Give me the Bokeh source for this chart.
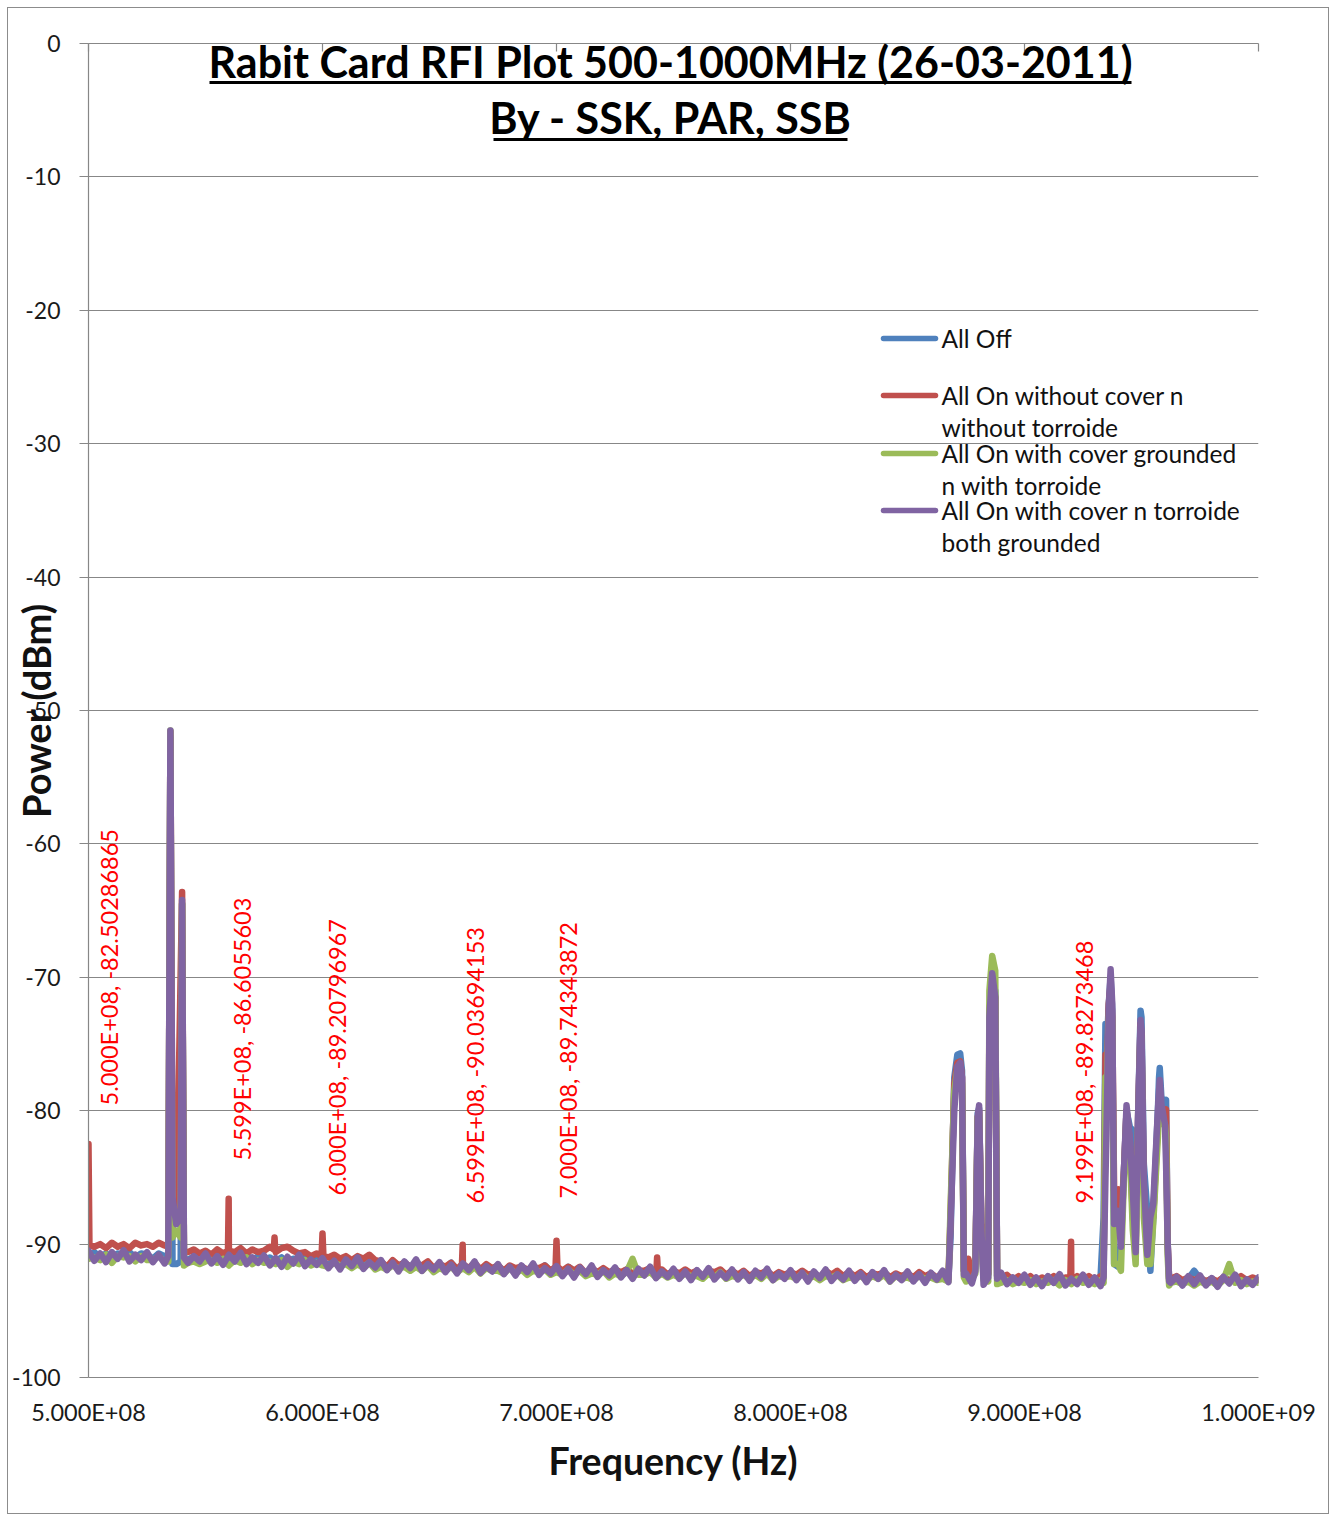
import math
from bokeh.plotting import figure
from bokeh.models import (Range1d, FixedTicker, LinearAxis, CustomJSTickFormatter,
                          Label, Grid)
from bokeh.embed import file_html
from bokeh.resources import INLINE

# ---------------- data ----------------
TITLE_1 = "Rabit Card RFI Plot 500-1000MHz (26-03-2011)"
TITLE_2 = "By - SSK, PAR, SSB"
X_LABEL = "Frequency (Hz)"
Y_LABEL = "Power (dBm)"

x_ticks = [5.0e8, 6.0e8, 7.0e8, 8.0e8, 9.0e8, 1.0e9]
y_ticks = [0, -10, -20, -30, -40, -50, -60, -70, -80, -90, -100]

series_names = ["All Off",
                "All On without cover n without torroide",
                "All On with cover grounded n with torroide",
                "All On with cover n torroide both grounded"]
legend_lines = [["All Off"],
                ["All On without cover n", "without torroide"],
                ["All On with cover grounded", "n with torroide"],
                ["All On with cover n torroide", "both grounded"]]
series_colors = ["#4F81BD", "#C0504D", "#9BBB59", "#8064A2"]

# sweep: 500 .. 1000 MHz in 2.5 MHz steps (201 points)
sweep_mhz = [500.0 + 2.5 * i for i in range(201)]

all_off_dbm = [
    -90.9, -90.6, -91.0, -90.7, -91.1, -90.7, -90.9, -90.6, -91.0, -90.7,
    -90.8, -91.1, -90.7, -90.9, -52.0, -91.5, -64.5, -91.2, -90.9, -91.3,
    -91.1, -90.9, -91.2, -90.9, -91.3, -91.0, -91.1, -90.8, -91.2, -90.9,
    -91.2, -91.0, -91.3, -91.0, -91.4, -91.1, -91.2, -90.9, -91.4, -91.1,
    -91.3, -91.6, -91.1, -91.4, -91.3, -91.6, -91.2, -91.5, -91.2, -91.6,
    -91.4, -91.8, -91.3, -91.6, -91.5, -91.8, -91.4, -91.7, -91.5, -91.8,
    -91.6, -91.8, -91.4, -91.9, -91.6, -91.9, -91.5, -91.9, -91.6, -91.8,
    -91.7, -92.0, -91.7, -91.9, -91.8, -92.0, -91.8, -92.0, -91.6, -92.0,
    -91.8, -92.2, -91.7, -92.0, -91.9, -92.2, -91.9, -92.1, -91.9, -92.2,
    -92.0, -92.2, -91.9, -92.3, -92.0, -92.2, -91.8, -92.3, -92.0, -92.3,
    -92.0, -92.4, -92.0, -92.2, -92.1, -92.4, -92.1, -92.2, -92.0, -92.3,
    -92.1, -92.4, -92.1, -92.4, -92.2, -92.3, -92.1, -92.4, -92.2, -92.4,
    -92.2, -92.4, -92.1, -92.4, -92.2, -92.5, -92.1, -92.4, -92.1, -92.4,
    -92.2, -92.5, -92.2, -92.5, -92.3, -92.4, -92.1, -92.5, -92.3, -92.4,
    -92.3, -92.5, -92.2, -92.5, -92.2, -92.6, -92.3, -92.6, -77.5, -75.7,
    -92.5, -92.3, -80.2, -92.4, -72.8, -71.0, -92.7, -92.4, -92.8, -92.5,
    -92.7, -92.5, -92.8, -92.6, -92.7, -92.5, -92.8, -92.6, -92.7, -92.5,
    -92.7, -92.5, -92.8, -92.5, -76.0, -72.5, -91.7, -84.5, -81.2, -90.0,
    -73.0, -87.6, -88.0, -77.5, -79.3, -92.7, -92.5, -92.8, -92.6, -92.0,
    -92.6, -92.8, -92.6, -92.9, -92.5, -92.7, -92.6, -92.5, -92.7, -92.6,
    -92.7]
all_off_extra = [
    (534.1, -90.8), (535.9, -91.5), (539.4, -91.3), (540.8, -91.0),
    (868.4, -89.5), (871.3, -75.8), (873.3, -77.0), (874.1, -92.0),
    (879.0, -91.8), (880.6, -79.8), (881.6, -89.0),
    (884.5, -92.3), (886.2, -70.2), (888.3, -92.4),
    (933.8, -88.0), (934.6, -73.5), (936.0, -72.0), (936.8, -70.0), (938.3, -91.5),
    (941.2, -90.0), (943.6, -80.0), (946.3, -81.5), (948.6, -80.0), (949.6, -72.5),
    (951.0, -84.0), (953.8, -92.0), (957.0, -80.0), (957.8, -76.8), (958.5, -79.0),
    (960.5, -79.2), (961.2, -90.0), (961.8, -92.6)]

no_cover_dbm = [
    -82.5, -90.2, -90.0, -90.3, -89.9, -90.2, -90.0, -90.3, -89.9, -90.1,
    -90.0, -90.2, -89.9, -90.1, -51.6, -88.0, -63.6, -90.6, -90.4, -90.7,
    -90.5, -90.8, -90.4, -90.7, -90.5, -90.6, -90.3, -90.7, -90.4, -90.6,
    -90.5, -90.2, -90.6, -90.3, -90.2, -90.5, -90.7, -90.6, -90.9, -90.7,
    -89.2, -91.0, -90.8, -91.1, -90.9, -91.2, -90.9, -91.1, -90.8, -91.2,
    -91.3, -91.7, -91.2, -91.6, -91.4, -91.7, -91.5, -91.6, -91.3, -91.8,
    -91.5, -91.7, -91.4, -91.9, -91.5, -91.8, -91.4, -91.9, -91.5, -91.8,
    -91.6, -92.0, -91.6, -91.8, -91.7, -91.9, -91.8, -91.8, -91.6, -92.0,
    -89.74, -92.0, -91.7, -92.0, -91.7, -92.2, -91.8, -92.1, -91.8, -92.1,
    -91.9, -92.1, -91.9, -92.2, -92.0, -92.0, -91.8, -92.2, -91.9, -92.3,
    -92.0, -92.2, -91.9, -92.2, -92.0, -92.4, -92.0, -92.1, -91.9, -92.3,
    -92.0, -92.3, -92.0, -92.4, -92.1, -92.2, -92.0, -92.4, -92.1, -92.3,
    -92.1, -92.3, -92.0, -92.3, -92.2, -92.5, -92.0, -92.3, -92.0, -92.4,
    -92.1, -92.4, -92.1, -92.5, -92.2, -92.3, -92.1, -92.5, -92.2, -92.4,
    -92.2, -92.5, -92.1, -92.4, -92.2, -92.5, -92.3, -92.6, -78.0, -76.3,
    -92.4, -92.2, -80.5, -92.3, -72.5, -71.5, -92.6, -92.3, -92.7, -92.4,
    -92.7, -92.4, -92.8, -92.5, -92.7, -92.4, -92.8, -92.5, -92.7, -92.4,
    -92.6, -92.4, -92.7, -92.4, -79.0, -73.0, -85.9, -84.5, -82.3, -90.4,
    -74.5, -90.6, -88.0, -79.2, -80.0, -92.6, -92.4, -92.7, -92.5, -92.7,
    -92.5, -92.8, -92.6, -92.8, -92.5, -92.7, -92.6, -92.4, -92.7, -92.5,
    -92.7]
no_cover_extra = [
    (500.4, -90.1), (534.1, -90.2), (535.9, -86.0), (538.4, -79.6), (540.8, -90.6),
    (559.6, -90.5), (559.9, -86.6), (579.2, -90.4), (579.5, -89.5), (579.8, -90.4),
    (599.6, -90.9), (600.4, -90.9), (659.6, -91.5), (659.9, -90.04),
    (699.6, -91.7), (700.4, -91.7), (742.7, -92.0), (743.0, -91.0), (743.3, -92.0),
    (919.6, -92.5), (919.9, -89.83),
    (868.4, -88.0), (871.3, -76.4), (873.3, -77.5), (874.1, -92.0), (876.0, -91.1),
    (879.0, -91.5), (880.6, -80.0), (881.6, -88.5), (883.3, -88.7),
    (884.5, -92.2), (886.2, -70.5), (888.3, -92.4),
    (933.8, -92.3), (934.6, -75.8), (936.0, -72.0), (936.8, -70.5), (938.3, -86.0),
    (941.2, -88.5), (943.6, -80.0), (946.3, -88.0), (948.6, -80.0), (949.6, -73.5),
    (951.0, -86.0), (953.8, -88.5), (957.0, -81.0), (958.5, -80.5), (960.5, -79.9),
    (961.2, -90.0), (961.8, -92.6)]

cover_grounded_dbm = [
    -91.1, -91.0, -91.2, -90.8, -91.4, -90.9, -91.0, -90.9, -91.3, -90.9,
    -91.2, -91.2, -90.9, -91.3, -51.5, -89.0, -64.5, -91.4, -91.3, -91.5,
    -91.3, -91.2, -91.4, -91.1, -91.6, -91.2, -91.4, -91.0, -91.5, -91.2,
    -91.4, -91.3, -91.5, -91.2, -91.7, -91.3, -91.5, -91.2, -91.6, -91.4,
    -91.6, -91.7, -91.4, -91.6, -91.5, -91.8, -91.5, -91.8, -91.4, -91.9,
    -91.7, -91.9, -91.6, -91.8, -91.7, -92.0, -91.7, -92.0, -91.6, -92.1,
    -91.8, -92.0, -91.7, -92.1, -91.8, -92.1, -91.7, -92.2, -91.8, -92.0,
    -92.0, -92.2, -91.8, -92.2, -91.9, -92.3, -92.0, -92.1, -91.9, -92.3,
    -92.1, -92.3, -91.9, -92.3, -92.0, -92.4, -92.2, -92.3, -92.0, -92.5,
    -92.2, -92.4, -92.1, -91.1, -92.3, -92.3, -92.1, -92.5, -92.2, -92.5,
    -92.3, -92.5, -92.2, -92.4, -92.4, -92.6, -92.2, -92.5, -92.1, -92.6,
    -92.4, -92.5, -92.3, -92.6, -92.3, -92.6, -92.2, -92.7, -92.4, -92.5,
    -92.4, -92.6, -92.2, -92.6, -92.4, -92.7, -92.4, -92.5, -92.3, -92.7,
    -92.5, -92.6, -92.4, -92.7, -92.4, -92.6, -92.3, -92.8, -92.4, -92.6,
    -92.5, -92.7, -92.4, -92.6, -92.5, -92.7, -92.6, -92.8, -78.5, -76.9,
    -92.8, -92.6, -80.5, -92.7, -71.0, -69.5, -92.9, -92.7, -93.0, -92.8,
    -92.9, -92.7, -93.0, -92.8, -92.9, -92.7, -93.1, -92.7, -93.0, -92.6,
    -92.9, -92.8, -93.0, -92.7, -80.0, -73.5, -91.5, -85.0, -83.0, -91.5,
    -75.0, -91.5, -88.5, -79.5, -81.0, -92.9, -92.8, -93.0, -92.8, -93.1,
    -92.8, -93.0, -92.8, -93.1, -92.7, -91.5, -92.9, -92.7, -93.0, -92.8,
    -92.9]
cover_grounded_extra = [
    (534.1, -91.3), (535.9, -89.5), (539.4, -89.5), (540.8, -91.6),
    (868.4, -87.2), (871.3, -76.9), (873.3, -78.0), (874.1, -92.5),
    (879.0, -92.2), (880.6, -80.3), (881.6, -89.5),
    (884.5, -92.8), (886.2, -68.4), (888.3, -93.0),
    (933.8, -92.9), (934.6, -77.5), (936.0, -73.0), (936.8, -71.0), (938.3, -91.5),
    (941.2, -92.0), (943.6, -80.5), (946.3, -89.0), (948.6, -81.0), (949.6, -74.0),
    (951.0, -88.0), (953.8, -91.5), (957.0, -82.0), (957.8, -79.5), (958.5, -81.0),
    (960.5, -82.0), (961.2, -91.0), (961.8, -93.1)]

both_grounded_dbm = [
    -90.5, -91.25, -90.7, -91.35, -90.6, -91.1, -90.45, -91.3, -90.8, -91.2,
    -90.6, -91.35, -90.8, -91.45, -51.5, -88.5, -64.2, -91.4, -90.9, -91.3,
    -90.7, -91.45, -90.9, -91.55, -90.8, -91.3, -90.65, -91.5, -91.0, -91.4,
    -90.85, -91.6, -91.05, -91.7, -90.95, -91.45, -90.8, -91.65, -91.15, -91.55,
    -91.05, -91.8, -91.25, -91.9, -91.15, -91.65, -91.0, -91.85, -91.35, -91.75,
    -91.2, -91.95, -91.4, -92.05, -91.3, -91.8, -91.15, -92.0, -91.5, -91.9,
    -91.35, -92.1, -91.55, -92.2, -91.45, -91.95, -91.3, -92.15, -91.65, -92.05,
    -91.5, -92.25, -91.7, -92.35, -91.6, -92.1, -91.45, -92.3, -91.8, -92.2,
    -91.65, -92.4, -91.85, -92.5, -91.75, -92.25, -91.6, -92.45, -91.95, -92.35,
    -91.75, -92.5, -91.95, -92.6, -91.85, -92.35, -91.7, -92.55, -92.05, -92.45,
    -91.85, -92.6, -92.05, -92.7, -91.95, -92.45, -91.8, -92.65, -92.15, -92.55,
    -91.9, -92.65, -92.1, -92.75, -92.0, -92.5, -91.85, -92.7, -92.2, -92.6,
    -91.95, -92.7, -92.15, -92.8, -92.05, -92.55, -91.9, -92.75, -92.25, -92.65,
    -92.0, -92.75, -92.2, -92.85, -92.1, -92.6, -91.95, -92.8, -92.3, -92.7,
    -92.05, -92.8, -92.25, -92.9, -92.15, -92.65, -92.0, -92.85, -80.0, -76.4,
    -92.2, -92.95, -80.5, -93.05, -73.0, -71.5, -92.15, -93.0, -92.5, -92.9,
    -92.3, -93.05, -92.5, -93.15, -92.4, -92.9, -92.25, -93.1, -92.6, -93.0,
    -92.3, -93.05, -92.5, -93.15, -82.0, -72.0, -87.5, -84.5, -82.0, -90.6,
    -74.0, -90.8, -87.0, -78.5, -81.0, -92.9, -92.45, -93.1, -92.4, -93.0,
    -92.35, -93.1, -92.55, -93.2, -92.45, -92.95, -92.3, -93.15, -92.65, -93.05,
    -92.5]
both_grounded_extra = [
    (534.1, -90.9), (535.9, -86.5), (539.4, -88.0), (540.8, -91.0),
    (868.4, -88.5), (871.3, -76.7), (873.3, -77.5), (874.1, -92.3),
    (879.0, -92.0), (880.6, -79.6), (881.6, -89.0),
    (884.5, -92.5), (886.2, -69.7), (888.3, -92.6),
    (933.8, -92.5), (934.6, -85.0), (936.0, -72.5), (936.8, -69.4), (938.3, -88.5),
    (941.2, -90.2), (943.6, -79.6), (946.3, -86.0), (948.6, -80.0), (949.6, -73.2),
    (951.0, -85.0), (953.8, -88.0), (957.0, -80.0), (957.8, -77.7), (958.5, -79.5),
    (960.5, -84.0), (961.2, -90.0), (961.8, -92.8)]

# marker (data-label) texts of the reference
marker_texts = ["5.000E+08, -82.50286865", "5.599E+08, -86.6055603",
                "6.000E+08, -89.20796967", "6.599E+08, -90.03694153",
                "7.000E+08, -89.74343872", "9.199E+08, -89.8273468"]

# ---------------- layout constants (pixels in the page) ----------------
PAGE_OFF = 8                      # canvas origin in the page (7px margin + 1px border)
FRAME_L, FRAME_R, FRAME_T, FRAME_B = 88, 1258, 43, 1377
X_MIN, X_MAX, Y_MIN, Y_MAX = 5.0e8, 1.0e9, -100.0, 0.0


def fx(px):
    return X_MIN + (px - FRAME_L) / (FRAME_R - FRAME_L) * (X_MAX - X_MIN)


def fy(py):
    return Y_MAX - (py - FRAME_T) / (FRAME_B - FRAME_T) * (Y_MAX - Y_MIN)


FONT = "Lato"
GREY = "#878787"

W, H = 1322, 1507
p = figure(width=W, height=H, x_range=Range1d(X_MIN, X_MAX), y_range=Range1d(Y_MIN, Y_MAX),
           x_axis_type=None, y_axis_type=None, output_backend="svg", toolbar_location=None,
           min_border_left=FRAME_L - PAGE_OFF, min_border_right=W - (FRAME_R - PAGE_OFF),
           min_border_top=FRAME_T - PAGE_OFF, min_border_bottom=H - (FRAME_B - PAGE_OFF))
p.outline_line_color = None
p.background_fill_color = "white"
p.border_fill_color = "white"
p.styles = {"border": "1px solid #8c8c8c", "margin-left": "7px", "margin-top": "7px"}

p.add_layout(Grid(dimension=1, ticker=FixedTicker(ticks=y_ticks),
                  grid_line_color=GREY, grid_line_width=1.2))

yfmt = CustomJSTickFormatter(code="return String(Math.round(tick));")
yaxis = LinearAxis(ticker=FixedTicker(ticks=y_ticks), formatter=yfmt,
                   axis_line_color=GREY, axis_line_width=1.2,
                   major_tick_line_color=GREY, major_tick_line_width=1.2,
                   major_tick_out=9, major_tick_in=0, minor_tick_line_color=None,
                   major_label_text_font=FONT, major_label_text_font_size="23px",
                   major_label_text_color="#1a1a1a", major_label_standoff=19,
                   axis_label=Y_LABEL, axis_label_text_font=FONT,
                   axis_label_text_font_style="bold", axis_label_text_font_size="38px",
                   axis_label_text_color="#111111", axis_label_standoff=-50)
p.add_layout(yaxis, "left")

fmt = CustomJSTickFormatter(code="""
const s = tick.toExponential(3).split('e');
const e = parseInt(s[1]);
const a = Math.abs(e);
return s[0] + 'E' + (e < 0 ? '-' : '+') + (a < 10 ? '0' : '') + a;
""")
xaxis = LinearAxis(ticker=FixedTicker(ticks=x_ticks), formatter=fmt,
                   axis_line_color=GREY, axis_line_width=1.2,
                   major_tick_line_color=None, major_tick_out=0, major_tick_in=0,
                   minor_tick_line_color=None,
                   major_label_text_font=FONT, major_label_text_font_size="23.5px",
                   major_label_text_color="#1a1a1a", major_label_standoff=20,
                   axis_label=X_LABEL, axis_label_text_font=FONT,
                   axis_label_text_font_style="bold", axis_label_text_font_size="37.5px",
                   axis_label_text_color="#111111", axis_label_standoff=9)
p.add_layout(xaxis, "below")

top_axis = LinearAxis(ticker=FixedTicker(ticks=x_ticks),
                      formatter=CustomJSTickFormatter(code="return '';"),
                      axis_line_color=GREY, axis_line_width=1.2,
                      major_tick_line_color=GREY, major_tick_line_width=1.2,
                      major_tick_in=8, major_tick_out=0, minor_tick_line_color=None,
                      major_label_standoff=0)
p.add_layout(top_axis, "above")

# ---------------- series ----------------
series = [(all_off_dbm, all_off_extra), (no_cover_dbm, no_cover_extra),
          (cover_grounded_dbm, cover_grounded_extra), (both_grounded_dbm, both_grounded_extra)]
for (vals, extra), color, name in zip(series, series_colors, series_names):
    pts = sorted(list(zip(sweep_mhz, vals)) + list(extra))
    xs = [f * 1e6 for f, _ in pts]
    ys = [v for _, v in pts]
    p.line(xs, ys, line_color=color, line_width=6.5, line_join="round", line_cap="round")

# ---------------- legend (hand-placed, no frame) ----------------
legend_row_px = [338, 395, 453, 510]
for lines, color, ypx in zip(legend_lines, series_colors, legend_row_px):
    p.segment(x0=[fx(883)], y0=[fy(ypx)], x1=[fx(935)], y1=[fy(ypx)],
              line_color=color, line_width=5.5, line_cap="round")
    for k, t in enumerate(lines):
        p.add_layout(Label(x=fx(941), y=fy(ypx + 32 * k), text=t, text_font=FONT,
                           text_font_size="24.5px", text_color="#111111",
                           text_align="left", text_baseline="middle"))

# ---------------- red data labels ----------------
marker_pos_px = [(108, 1105), (241, 1160), (336, 1195), (474, 1203), (567, 1198), (1083, 1203)]
for t, (xp, yp) in zip(marker_texts, marker_pos_px):
    p.add_layout(Label(x=fx(xp), y=fy(yp), text=t, angle=math.pi / 2, text_font=FONT,
                       text_font_size="23.5px", text_color="#FF0000",
                       text_align="left", text_baseline="middle"))

# ---------------- title (underlined, inside the plot) ----------------
p.add_layout(Label(x=fx(670), y=fy(61), text=TITLE_1, text_font=FONT, text_font_style="bold",
                   text_font_size="43px", text_color="#000000",
                   text_align="center", text_baseline="middle"))
p.add_layout(Label(x=fx(670), y=fy(117), text=TITLE_2, text_font=FONT, text_font_style="bold",
                   text_font_size="43px", text_color="#000000",
                   text_align="center", text_baseline="middle"))
p.segment(x0=[fx(209), fx(493)], y0=[fy(82), fy(139)], x1=[fx(1131), fx(847)],
          y1=[fy(82), fy(139)], line_color="#000000", line_width=3)

open("out.html", "w").write(file_html(p, INLINE))
